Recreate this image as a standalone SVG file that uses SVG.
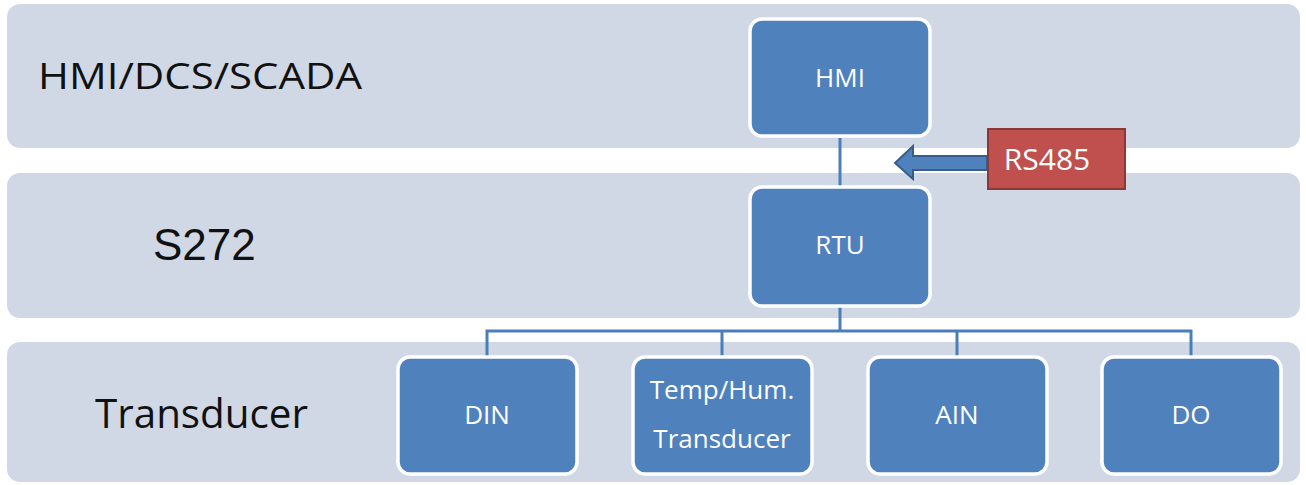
<svg xmlns="http://www.w3.org/2000/svg" width="1306" height="485" viewBox="0 0 1306 485">
<defs>
<style>
.band{fill:#D0D8E6;}
.box{fill:#4F81BD;stroke:#FFFFFF;stroke-width:3.5;}
.lbl{font-family:"Open Sans","Liberation Sans",sans-serif;fill:#111111;}
.bt{font-family:"Open Sans","Liberation Sans",sans-serif;fill:#FFFFFF;font-size:26px;text-anchor:middle;}
.con{stroke:#4A7EBB;stroke-width:3;fill:none;}
</style>
</defs>
<rect width="1306" height="485" fill="#FFFFFF"/>
<g id="band-hmi"><rect class="band" x="7" y="4" width="1293" height="144" rx="13"/>
<text class="lbl" x="38" y="89" font-size="36" textLength="324" lengthAdjust="spacingAndGlyphs">HMI/DCS/SCADA</text></g>
<g id="band-s272"><rect class="band" x="7" y="173" width="1293" height="145" rx="13"/>
<text x="153" y="260" font-family="Liberation Sans, Arial, sans-serif" font-size="44" fill="#111111">S272</text></g>
<g id="band-transducer"><rect class="band" x="7" y="342" width="1293" height="140" rx="13"/>
<text class="lbl" x="95" y="428" font-size="40" textLength="213" lengthAdjust="spacingAndGlyphs">Transducer</text></g>
<g id="connectors">
<line class="con" x1="840" y1="138" x2="840" y2="186"/>
<polyline class="con" points="487,356 487,331 1191,331 1191,356"/>
<line class="con" x1="840" y1="306" x2="840" y2="331"/>
<line class="con" x1="722" y1="331" x2="722" y2="356"/>
<line class="con" x1="957" y1="331" x2="957" y2="356"/>
<path d="M987,156 L913,156 L913,146 L895,163 L913,179 L913,170 L987,170 Z" fill="#4F81BD" stroke="#385D8A" stroke-width="2"/>
</g>
<g id="node-hmi"><rect class="box" x="750" y="19" width="180" height="117" rx="12"/><text class="bt" x="840" y="87">HMI</text></g>
<g id="node-rtu"><rect class="box" x="750" y="187" width="180" height="119" rx="12"/><text class="bt" x="840" y="254">RTU</text></g>
<g id="node-rs485"><rect x="988" y="129" width="137" height="60" fill="#C0504D" stroke="#8C3836" stroke-width="2"/><text x="1047" y="170" font-family="Open Sans, Liberation Sans, sans-serif" font-size="30" fill="#FFFFFF" text-anchor="middle">RS485</text></g>
<g id="node-din"><rect class="box" x="398" y="357" width="179" height="117" rx="12"/><text class="bt" x="487" y="424">DIN</text></g>
<g id="node-temp"><rect class="box" x="633" y="357" width="179" height="117" rx="12"/><text class="bt" x="722" y="399">Temp/Hum.</text><text class="bt" x="722" y="448">Transducer</text></g>
<g id="node-ain"><rect class="box" x="868" y="357" width="179" height="117" rx="12"/><text class="bt" x="957" y="424">AIN</text></g>
<g id="node-do"><rect class="box" x="1102" y="357" width="179" height="117" rx="12"/><text class="bt" x="1191" y="424">DO</text></g>
</svg>
